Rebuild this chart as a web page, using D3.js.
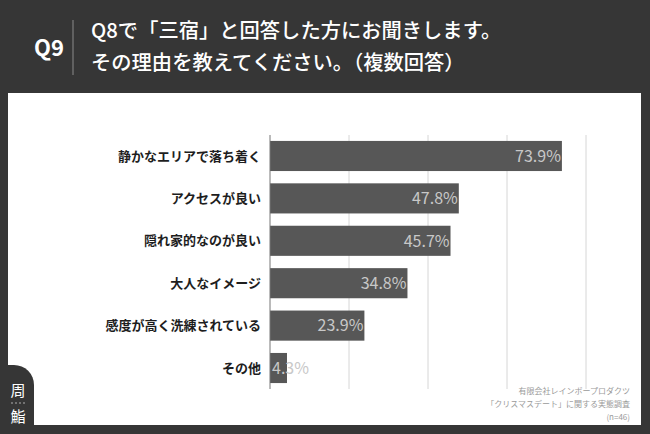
<!DOCTYPE html>
<html>
<head>
<meta charset="utf-8">
<script src="https://cdn.jsdelivr.net/npm/d3@7"></script>
<style>
  html, body { margin: 0; padding: 0; background: #363636; }
  svg { display: block; }
  text { font-family: "Noto Sans CJK JP", "Noto Sans", sans-serif; }
</style>
</head>
<body>
<svg id="chart" width="650" height="434"></svg>
<script>
// data
const categories = ["静かなエリアで落ち着く", "アクセスが良い", "隠れ家的なのが良い", "大人なイメージ", "感度が高く洗練されている", "その他"];
const values = [73.9, 47.8, 45.7, 34.8, 23.9, 4.3];
const gridTicks = [20, 40, 60, 80];
const titleLines = ["Q8で「三宿」と回答した方にお聞きします。", "その理由を教えてください。（複数回答）"];
const sourceLines = ["有限会社レインボープロダクツ", "「クリスマスデート」に関する実態調査", "(n=46)"];

const svg = d3.select("#chart");

// header
svg.append("rect").attr("width", 650).attr("height", 434).attr("fill", "#363636");
svg.append("text")
    .attr("x", 49).attr("y", 56)
    .attr("text-anchor", "middle")
    .attr("fill", "#fff")
    .attr("font-size", 22)
    .attr("font-weight", "bold")
    .attr("font-family", "'Liberation Sans', Arial, sans-serif")
    .text("Q9");
svg.append("line")
    .attr("x1", 73).attr("x2", 73).attr("y1", 20).attr("y2", 75)
    .attr("stroke", "#8a8a8a").attr("stroke-width", 1);
svg.append("g").selectAll("text")
    .data(titleLines)
    .join("text")
    .attr("x", 91)
    .attr("y", (d, i) => 38 + i * 32)
    .attr("fill", "#fff")
    .attr("font-size", 20.3)
    .attr("font-weight", 500)
    .text(d => d);

// white panel
svg.append("rect")
    .attr("x", 8).attr("y", 93).attr("width", 633).attr("height", 332)
    .attr("fill", "#fff");

// scales
const x = d3.scaleLinear().domain([0, 80]).range([270, 586]);
const y = d3.scaleBand().domain(categories).range([135, 389]).paddingInner(0.29).paddingOuter(0.14);

// gridlines
svg.append("g").selectAll("line")
    .data(gridTicks)
    .join("line")
    .attr("x1", d => x(d)).attr("x2", d => x(d))
    .attr("y1", 135).attr("y2", 389)
    .attr("stroke", "#d6d6d6").attr("stroke-width", 1);

// bars
svg.append("g").selectAll("rect")
    .data(categories)
    .join("rect")
    .attr("x", x(0))
    .attr("y", d => y(d))
    .attr("width", (d, i) => x(values[i]) - x(0))
    .attr("height", y.bandwidth())
    .attr("fill", "#575757");

// axis line
svg.append("line")
    .attr("x1", x(0)).attr("x2", x(0))
    .attr("y1", 135).attr("y2", 389)
    .attr("stroke", "#777").attr("stroke-width", 1);

// category labels
svg.append("g").selectAll("text")
    .data(categories)
    .join("text")
    .attr("x", x(0) - 9)
    .attr("y", d => y(d) + y.bandwidth() / 2)
    .attr("dy", "0.36em")
    .attr("text-anchor", "end")
    .attr("fill", "#1e1e1e")
    .attr("font-size", 13)
    .attr("font-weight", "bold")
    .text(d => d);

// value labels
svg.append("g").selectAll("text")
    .data(categories)
    .join("text")
    .attr("x", (d, i) => values[i] < 10 ? x(0) + 2 : x(values[i]) - 1)
    .attr("y", d => y(d) + y.bandwidth() / 2)
    .attr("dy", "0.36em")
    .attr("text-anchor", (d, i) => values[i] < 10 ? "start" : "end")
    .attr("fill", "#c8c8c8")
    .attr("font-size", 16)
    .attr("font-family", "'Liberation Sans', Arial, sans-serif")
    .text((d, i) => values[i].toFixed(1) + "%");

// source note
svg.append("g").selectAll("text")
    .data(sourceLines)
    .join("text")
    .attr("x", 630)
    .attr("y", (d, i) => 394 + i * 13)
    .attr("text-anchor", "end")
    .attr("fill", "#9a9a9a")
    .attr("font-size", 8)
    .text(d => d);

// logo tab bottom-left
svg.append("path")
    .attr("d", "M0,365 L14,365 A20,20 0 0 1 34,385 L34,426 L0,426 Z")
    .attr("fill", "#363636");
svg.append("rect").attr("x", 0).attr("y", 425).attr("width", 650).attr("height", 9).attr("fill", "#363636");
svg.append("text")
    .attr("x", 18).attr("y", 396)
    .attr("text-anchor", "middle")
    .attr("fill", "#fff")
    .attr("font-size", 15)
    .text("周");
svg.append("g").selectAll("circle")
    .data([0, 1, 2, 3])
    .join("circle")
    .attr("cx", d => 12 + d * 4).attr("cy", 403).attr("r", 0.7)
    .attr("fill", "#ddd");
svg.append("text")
    .attr("x", 18).attr("y", 422)
    .attr("text-anchor", "middle")
    .attr("fill", "#fff")
    .attr("font-size", 15)
    .text("鮨");
</script>
</body>
</html>
